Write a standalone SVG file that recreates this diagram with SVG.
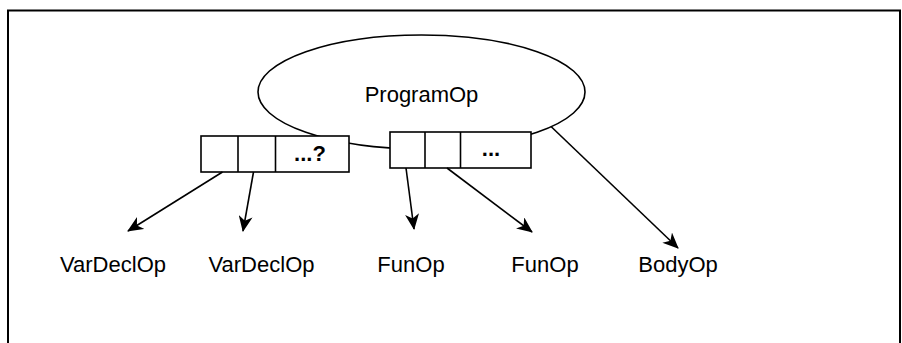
<svg xmlns="http://www.w3.org/2000/svg" width="902" height="343" viewBox="0 0 902 343">
<style>
.frame{fill:#fff;stroke:#000;stroke-width:2}
.shape{fill:#fff;stroke:#000;stroke-width:1.6}
.edge{fill:none;stroke:#000;stroke-width:1.6}
.lbl{font-family:"Liberation Sans",Arial,sans-serif;font-size:22px;fill:#000;text-anchor:middle}
.bold{font-weight:bold}
</style>
<defs>
<marker id="arr" viewBox="0 0 16 14" refX="15" refY="7" markerWidth="16" markerHeight="14" markerUnits="userSpaceOnUse" orient="auto">
<path d="M0,0 L16,7 L0,14 L4.5,7 Z" fill="#000"/>
</marker>
</defs>
<rect class="frame" x="8" y="10.5" width="892" height="340"/>
<g id="programop">
<ellipse class="shape" cx="421.5" cy="92" rx="163.5" ry="57"/>
<text class="lbl" x="421.5" y="102">ProgramOp</text>
</g>
<g id="vararray">
<rect class="shape" x="201" y="136" width="148" height="36"/>
<line class="edge" x1="238" y1="136" x2="238" y2="172"/>
<line class="edge" x1="275.5" y1="136" x2="275.5" y2="172"/>
<text class="lbl bold" x="310" y="161">...?</text>
</g>
<g id="funarray">
<rect class="shape" x="390" y="132" width="141" height="36"/>
<line class="edge" x1="425" y1="132" x2="425" y2="168"/>
<line class="edge" x1="460.5" y1="132" x2="460.5" y2="168"/>
<text class="lbl bold" x="491" y="156">...</text>
</g>
<g id="connectors">
<line class="edge" x1="222.5" y1="172" x2="128" y2="231" marker-end="url(#arr)"/>
<line class="edge" x1="253.5" y1="172" x2="243" y2="231" marker-end="url(#arr)"/>
<line class="edge" x1="406" y1="168" x2="414" y2="229" marker-end="url(#arr)"/>
<line class="edge" x1="447" y1="168" x2="532" y2="232" marker-end="url(#arr)"/>
<line class="edge" x1="551" y1="126.5" x2="678" y2="248" marker-end="url(#arr)"/>
</g>
<g id="vardecl1"><text class="lbl" x="113" y="272">VarDeclOp</text></g>
<g id="vardecl2"><text class="lbl" x="261.5" y="272">VarDeclOp</text></g>
<g id="funop1"><text class="lbl" x="411" y="272">FunOp</text></g>
<g id="funop2"><text class="lbl" x="545" y="272">FunOp</text></g>
<g id="bodyop"><text class="lbl" x="678" y="272">BodyOp</text></g>
</svg>
